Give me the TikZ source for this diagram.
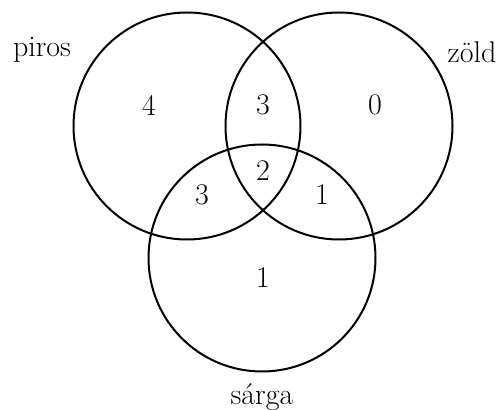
\documentclass[tikz,border=0pt]{standalone}
\begin{document}
\begin{tikzpicture}[x=0.5pt,y=-0.5pt,
  setc/.style={circle,draw,line width=1pt,minimum size=113.5pt,inner sep=0pt},
  lbl/.style={font=\fontsize{15}{18}\selectfont,inner sep=0pt}]
\useasboundingbox (0,0) rectangle (503,410);
\node[setc] (P) at (187,126) {};
\node[setc] (Z) at (339,126) {};
\node[setc] (S) at (262,258) {};
\node[lbl,anchor=base] (lp) at (42,57) {piros};
\node[lbl,anchor=base] (lz) at (472,63) {zöld};
\node[lbl,anchor=base] (ls) at (262,405) {sárga};
\node[lbl] (n1) at (149,105) {4};
\node[lbl] (n2) at (263,105) {3};
\node[lbl] (n3) at (375,105) {0};
\node[lbl] (n4) at (263,171) {2};
\node[lbl] (n5) at (202,195) {3};
\node[lbl] (n6) at (322,195) {1};
\node[lbl] (n7) at (263,278) {1};
\end{tikzpicture}
\end{document}
